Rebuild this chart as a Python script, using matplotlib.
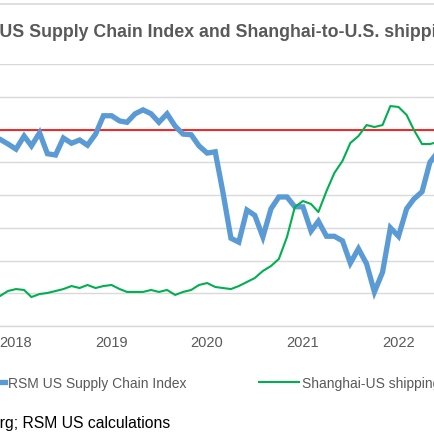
import numpy as np
import pandas as pd
import matplotlib
matplotlib.use("Agg")
import matplotlib.pyplot as plt
from matplotlib.lines import Line2D

plt.rcParams['font.family'] = ['Liberation Sans', 'DejaVu Sans']

# monthly data, Oct 2017 .. Jun 2022
months = pd.date_range("2017-10-01", "2022-06-01", freq="MS")

supply_chain_index = [
    -0.10, -0.15, -0.22,
    -0.30, -0.10, -0.25, -0.05, -0.37, -0.39, -0.13, -0.21, -0.16, -0.24, -0.07, 0.21,
    0.21, 0.13, 0.11, 0.24, 0.30, 0.24, 0.11, 0.24, 0.05, -0.07, -0.08, -0.25,
    -0.36, -0.34, -0.95, -1.66, -1.72, -1.23, -1.31, -1.64, -1.21, -1.03, -1.03, -1.18,
    -1.18, -1.55, -1.40, -1.63, -1.63, -1.70, -2.04, -1.82, -2.05, -2.48, -2.18, -1.50,
    -1.63, -1.21, -1.06, -0.95, -0.50, -0.34,
]

shipping_costs = [
    2350, 2290, 2670,
    2820, 2750, 2210, 2440, 2520, 2670, 2820, 3050, 2900, 3130, 2900, 3050,
    3130, 2820, 2600, 2600, 2600, 2750, 2600, 2750, 2370, 2600, 2750, 3130,
    3280, 2980, 2900, 2820, 3050, 3360, 3660, 4200, 4580, 5120, 6790, 9080,
    9540, 9310, 8700, 10300, 11680, 12600, 13970, 14500, 15340, 15190, 15340, 16790,
    16720, 16110, 14960, 13890, 13890, 14050,
]

year_ticks = pd.to_datetime(["2018-01-01", "2019-01-01", "2020-01-01",
                             "2021-01-01", "2022-01-01"])
year_labels = ["2018", "2019", "2020", "2021", "2022"]

title = "RSM US Supply Chain Index and Shanghai-to-U.S. shipping costs"
source = "Source: Bloomberg; RSM US calculations"
labels = ["RSM US Supply Chain Index", "Shanghai-US shipping costs"]

W = H = 435.0
fig = plt.figure(figsize=(4.35, 4.35), dpi=100)
ax = fig.add_axes([0, (W - 327) / H, 1, (327 - 65) / H])
ax2 = ax.twinx()

blue = "#5B9BD5"
green = "#00B050"
grid = "#D9D9D9"
txt = "#595959"

# red reference line at zero
ax.axhline(0, color="red", lw=1.2, zorder=1.5)
l1, = ax.plot(months, supply_chain_index, color=blue, lw=3.8,
              solid_joinstyle="miter", zorder=2)
l2, = ax2.plot(months, shipping_costs, color=green, lw=1.5, zorder=3)

d0 = pd.Timestamp("2018-01-01")
px_per_day = (398.5 - 16) / (pd.Timestamp("2022-01-01") - d0).days
ax.set_xlim(d0 - pd.Timedelta(days=16 / px_per_day),
            d0 + pd.Timedelta(days=(W - 16) / px_per_day))
ax.set_ylim(-3, 1)
ax2.set_ylim(0, 20000)
ax.set_yticks(np.arange(-3, 1.01, 0.5))
ax2.set_yticks([])
ax.yaxis.grid(True, color=grid, lw=1.0)
ax.set_axisbelow(True)
ax.tick_params(axis="y", length=0, labelleft=False)
ax.set_xticks(year_ticks)
ax.set_xticklabels(year_labels)
ax.tick_params(axis="x", length=0, pad=6.5, labelsize=10.5, labelcolor=txt)
for a in (ax, ax2):
    for s in ("top", "left", "right", "bottom"):
        a.spines[s].set_visible(False)
ax.spines["bottom"].set_visible(True)
ax.spines["bottom"].set_color(grid)
ax.spines["bottom"].set_linewidth(1.0)
ax.patch.set_visible(False)

# chart border line on top
fig.add_artist(Line2D([0, 1], [1 - 5 / H, 1 - 5 / H], color=grid, lw=1.2,
                      transform=fig.transFigure))

fig.canvas.draw()
r = fig.canvas.get_renderer()


def width(s, **kw):
    t = fig.text(0, 0, s, **kw)
    w = t.get_window_extent(r).width
    t.remove()
    return w


tkw = dict(fontsize=12.8, fontweight="bold")
pre = width("RSM US", **tkw) - width("US", **tkw)
fig.text((-pre - 1) / W, 1 - 37 / H, title, color=txt, ha="left",
         va="baseline", **tkw)

skw = dict(fontsize=11.3)
pre = width("Source: Bloomberg;", **skw) - width("rg;", **skw)
fig.text((-pre) / W, 7 / H, source, color="black", ha="left",
         va="baseline", **skw)

leg = fig.legend([l1, l2], labels, loc="center left",
                 bbox_to_anchor=(-35 / W, 1 - 384 / H),
                 bbox_transform=fig.transFigure, ncol=2, frameon=False,
                 fontsize=10, borderpad=0, borderaxespad=0,
                 handlelength=2.88, handletextpad=0.22, columnspacing=5.2)
for t in leg.get_texts():
    t.set_color(txt)
leg.get_lines()[0].set_linewidth(3.8)

fig.savefig("out.png", dpi=100)
